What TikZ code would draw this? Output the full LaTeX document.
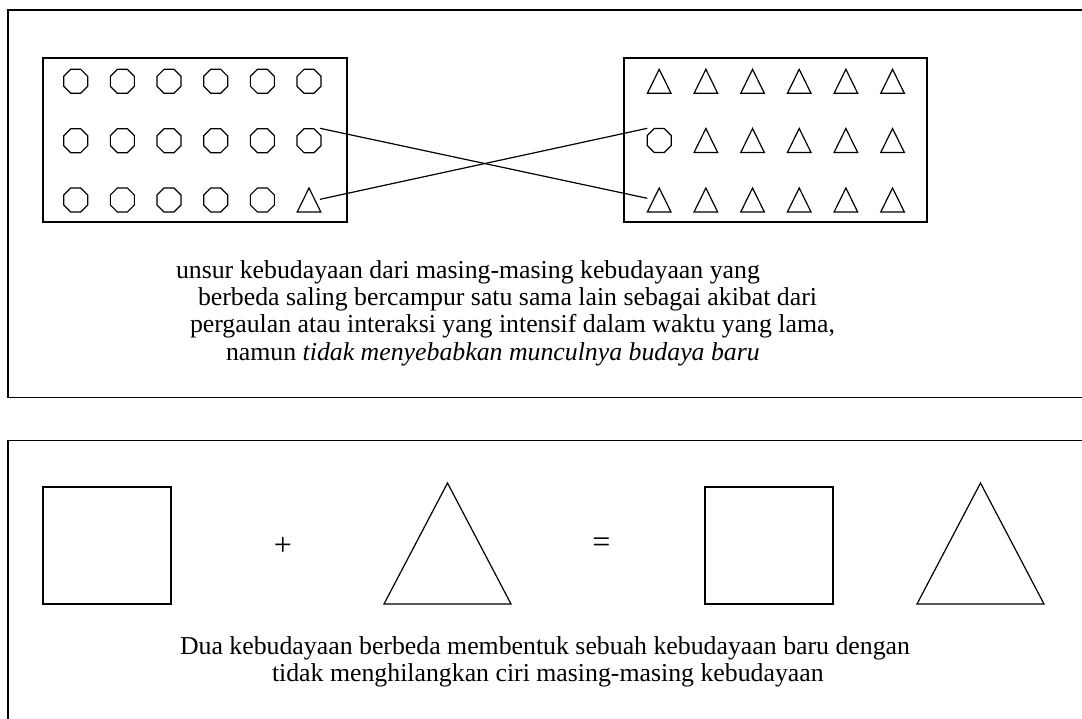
\documentclass[tikz,border=0pt]{standalone}
\usepackage{fontspec}
\setmainfont{Liberation Serif}
\usetikzlibrary{shapes.geometric}
\tikzset{
  frame/.style={draw, line width=1.6pt},
  inbox/.style={draw, line width=1.3pt, inner sep=0pt, outer sep=0pt},
  oct/.style={draw, regular polygon, regular polygon sides=8, minimum size=26pt,
    inner sep=0pt, outer sep=0pt, line width=1.2pt},
  stri/.pic={\draw[line width=1.2pt] (-11.8,12) -- (0,-12) -- (11.8,12) -- cycle;},
  btri/.pic={\draw[line width=1.2pt] (-63.5,60.5) -- (0,-60.5) -- (63.5,60.5) -- cycle;},
  link/.style={line width=1.2pt},
  txt/.style={font=\fontsize{25.8}{27}\selectfont, inner sep=0pt, outer sep=0pt, anchor=base west},
  sym/.style={font=\fontsize{32}{34}\selectfont, inner sep=0pt, outer sep=0pt},
}
\begin{document}
\begin{tikzpicture}[x=1pt,y=-1pt]
\path[use as bounding box] (0,0) rectangle (1082,719);
\begin{scope}
  \clip (0,0) rectangle (1082,719);
  \draw[frame] (8,10) rectangle (1100,397.5);
  \draw[frame] (8,440.5) rectangle (1100,760);
\end{scope}

% inner boxes
\node[inbox, minimum width=304pt, minimum height=164pt] (boxL) at (195,140) {};
\node[inbox, minimum width=303pt, minimum height=164pt] (boxR) at (775.5,140) {};

% left box octagons
\foreach \r/\y in {1/81.3,2/140.7,3/200}{
  \foreach \c in {1,...,6}{
    \ifnum\r\c=36\relax\else
      \node[oct] (L\r\c) at ({75.7+46.67*(\c-1)},\y) {};
    \fi
  }
}
\pic at (309,200) {stri};

% right box triangles
\foreach \r/\y in {1/81.3,2/140.5,3/200}{
  \foreach \c in {1,...,6}{
    \ifnum\r\c=21\relax\else
      \pic at ({659.2+46.67*(\c-1)},\y) {stri};
    \fi
  }
}
\node[oct] (R21) at (659.2,140.5) {};

% crossing connectors
\coordinate (a1) at (320,128.3);
\coordinate (a2) at (647.3,198.3);
\coordinate (b1) at (320,199.3);
\coordinate (b2) at (647.3,128.3);
\draw[link] (a1) -- (a2);
\draw[link] (b1) -- (b2);

% top text
\node[txt] (t1) at (176,279) {unsur kebudayaan dari masing-masing kebudayaan yang};
\node[txt] (t2) at (198,306) {berbeda saling bercampur satu sama lain sebagai akibat dari};
\node[txt] (t3) at (190,333) {pergaulan atau interaksi yang intensif dalam waktu yang lama,};
\node[txt] (t4) at (226,360) {namun \textit{tidak menyebabkan munculnya budaya baru}};

% bottom equation
\node[inbox, minimum width=128pt, minimum height=117pt] (sqA) at (107,545.5) {};
\node[sym] (plus) at (283,546) {+};
\pic at (447.5,543.5) {btri};
\node[sym] (eq) at (601.5,545) {=};
\node[inbox, minimum width=128pt, minimum height=117pt] (sqB) at (769,545.5) {};
\pic at (980.5,543.5) {btri};

% bottom text
\node[txt] (u1) at (180,654) {Dua kebudayaan berbeda membentuk sebuah kebudayaan baru dengan};
\node[txt] (u2) at (272,681) {tidak menghilangkan ciri masing-masing kebudayaan};
\end{tikzpicture}
\end{document}
